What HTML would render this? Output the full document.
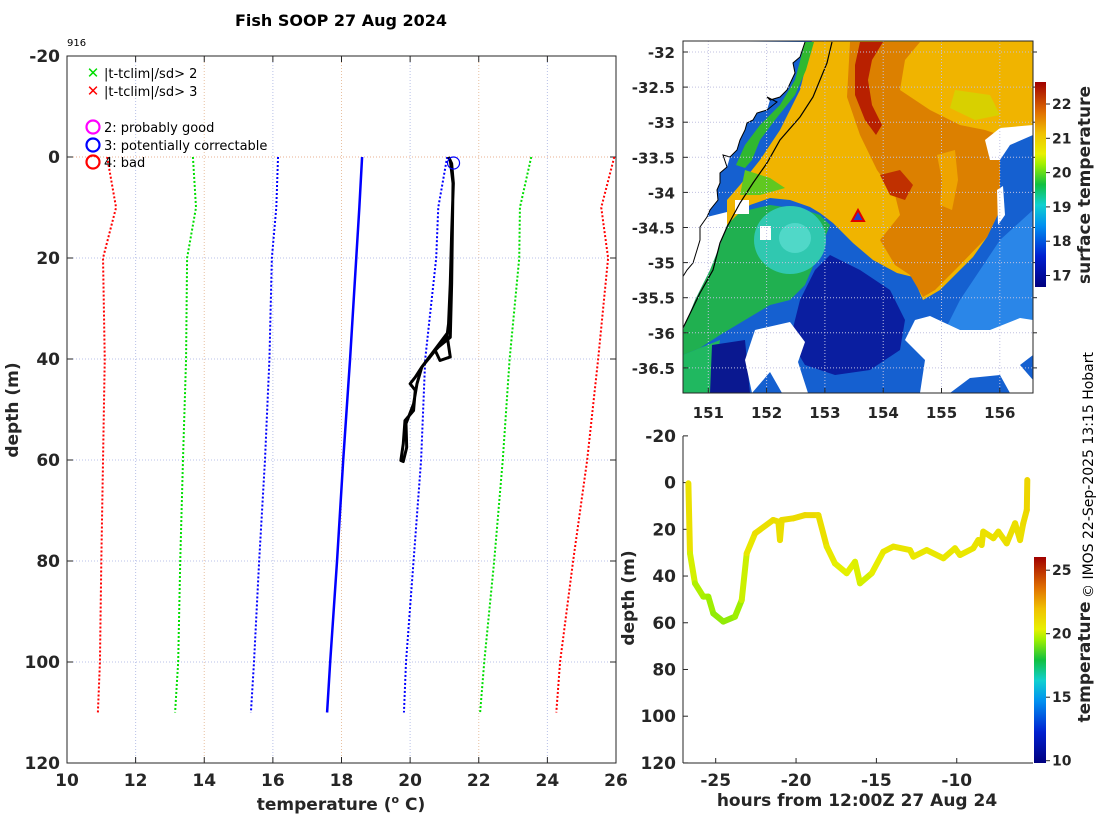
<!DOCTYPE html>
<html><head><meta charset="utf-8"><style>
html,body{margin:0;padding:0;background:#fff;}
svg{display:block;font-family:"DejaVu Sans","Liberation Sans",sans-serif;}
.tk{font-weight:bold;font-size:17px;fill:#262626;}
.tm{font-weight:bold;font-size:15px;fill:#262626;}
.tc{font-weight:bold;font-size:14px;fill:#262626;}
.lab{font-weight:bold;font-size:17px;fill:#262626;}
.leg{font-size:13px;fill:#000;}
</style></head><body>
<svg id="fig" width="1100" height="820" viewBox="0 0 1100 820" xmlns="http://www.w3.org/2000/svg">
<defs>
<linearGradient id="jet" x1="0" y1="1" x2="0" y2="0">
<stop offset="0" stop-color="#00007f"/><stop offset="0.15" stop-color="#0020d0"/><stop offset="0.3" stop-color="#0090f0"/><stop offset="0.4" stop-color="#10d0d0"/><stop offset="0.5" stop-color="#10c040"/><stop offset="0.6" stop-color="#a0f000"/><stop offset="0.65" stop-color="#e8f000"/><stop offset="0.75" stop-color="#f0c000"/><stop offset="0.85" stop-color="#e07000"/><stop offset="1" stop-color="#a00000"/>
</linearGradient>
<clipPath id="mapclip"><rect x="683" y="41" width="350" height="352"/></clipPath>
</defs>

<text x="341" y="26" text-anchor="middle" font-weight="bold" font-size="16">Fish SOOP 27 Aug 2024</text>
<text x="67" y="46" font-size="10">916</text>

<g id="main"></g>

<!-- MAP -->
<g id="map" clip-path="url(#mapclip)">
<rect x="683" y="41" width="350" height="352" fill="#1560d0"/>
<polygon fill="#2a86e8" points="960,300 1000,240 1033,210 1033,330 990,345 940,340"/>
<polygon fill="#f0b400" points="812,41 1033,41 1033,127 1000,132 1000,210 987,237 973,257 940,290 923,300 913,277 897,273 873,260 853,243 833,223 820,213 810,207 790,200 770,198 750,205 735,218 727,225 727,200 740,185 760,160 780,130 800,90"/>
<polygon fill="#dc8000" points="850,42 920,42 905,60 900,90 930,110 960,125 985,130 1000,135 1000,210 987,237 960,265 935,290 923,297 910,275 895,265 880,240 900,215 895,195 877,170 860,135 847,97"/>
<polygon fill="#eea400" points="937,155 955,150 958,180 952,210 940,205 942,180"/>
<polygon fill="#d8d000" points="955,90 990,95 1000,115 975,120 950,108"/>
<polygon fill="#b82000" points="860,42 883,42 872,60 868,80 872,105 882,125 876,135 865,120 855,95 855,65"/>
<polygon fill="#c03000" points="880,175 900,170 913,185 905,200 890,195"/>
<polygon fill="#30b830" points="805,42 814,42 806,70 795,95 775,120 760,140 752,160 745,168 736,165 745,145 760,125 780,105 795,80"/>
<polygon fill="#60c820" points="745,170 770,178 785,188 760,195 740,195"/>
<polygon fill="#20b050" points="727,225 740,212 770,205 805,210 820,215 830,225 820,250 805,285 790,300 770,305 745,320 720,335 700,348 683,355 683,330 695,300 710,270 720,245"/>
<ellipse cx="790" cy="240" rx="36" ry="34" fill="#30c8b0"/>
<ellipse cx="795" cy="238" rx="16" ry="15" fill="#50d8c8"/>
<polygon fill="#20b860" points="683,355 700,348 720,340 712,393 683,393"/>
<polygon fill="#0a1ea0" points="830,255 860,270 890,290 905,320 900,350 870,370 835,375 805,365 790,340 800,300 815,270"/>
<polygon fill="#0a1890" points="712,345 745,340 750,393 710,393"/>
<polygon fill="#fff" points="985,140 1000,128 1033,125 1033,135 1010,145 1000,160 990,160"/>
<polygon fill="#fff" points="997,190 1003,186 1005,215 998,225"/>
<polygon fill="#fff" points="915,320 930,316 960,330 990,330 1020,318 1033,320 1033,355 1020,365 1033,380 1033,393 1010,393 1000,375 970,378 950,393 920,393 925,360 905,340"/>
<polygon fill="#fff" points="755,330 790,322 805,342 798,362 808,393 782,393 770,372 752,393 745,360"/>
<rect x="735" y="200" width="14" height="14" fill="#fff"/>
<rect x="760" y="226" width="11" height="14" fill="#fff"/>
<polygon fill="#fff" points="683,41 805,42 800,57 793,63 795,73 787,90 780,97 770,100 767,110 757,113 753,120 747,123 745,130 740,140 737,150 730,157 727,167 720,173 720,183 717,190 718,200 710,210 707,217 727,212 727,225 720,245 710,270 695,300 683,330"/>
<polyline fill="none" stroke="#000" stroke-width="1" points="805,42 800,57 793,63 795,73 787,90 780,97 770,100 767,97 777,102 767,110 757,113 753,120 747,123 745,130 740,140 737,150 730,157 723,155 727,167 720,173 720,183 717,190 718,200 710,210 707,217 700,227 700,240 697,250 693,263 687,270 682,278"/>
<polyline fill="none" stroke="#000" stroke-width="1.2" points="832,42 827,63 813,97 800,117 780,140 767,163 753,183 740,203 727,227 720,243 713,270 700,293 682,330"/>
<g id="mapgrid"></g>
<polygon points="858,210 864,221 852,221" fill="#2040d0" stroke="#e00000" stroke-width="2"/>
</g>
<rect x="683" y="41" width="350" height="352" fill="none" stroke="#262626" stroke-width="1"/>
<g id="mapaxes"></g>
<rect x="1035" y="82" width="11" height="205" fill="url(#jet)"/>
<text transform="translate(1090,185) rotate(-90)" text-anchor="middle" class="lab" font-size="15">surface temperature</text>

<!-- bottom -->
<g id="ts"></g>
<rect x="1034" y="557" width="12" height="206" fill="url(#jet)"/>
<text transform="translate(1090,662) rotate(-90)" text-anchor="middle" class="lab" font-size="15">temperature</text>
<text transform="translate(1093,475) rotate(-90)" text-anchor="middle" font-size="14" fill="#000">© IMOS 22-Sep-2025 13:15 Hobart</text>
</svg>
<script>
// ---- profile chart data ----
const depthC = [0,10,20,40,60,80,100,110];
const redL = [11.17,11.43,11.05,11.1,11.05,11.0,10.96,10.9];
const greenL = [13.67,13.76,13.5,13.47,13.38,13.3,13.24,13.15];
const blueL = [16.15,16.1,15.97,15.9,15.77,15.6,15.45,15.36];
const climMean = [18.6,18.52,18.43,18.25,18.05,17.87,17.67,17.58];
const blueR = [21.08,20.82,20.76,20.44,20.32,20.1,19.88,19.82];
const greenR = [23.53,23.2,23.18,22.9,22.7,22.45,22.16,22.04];
const redR = [25.95,25.57,25.77,25.48,25.16,24.75,24.37,24.26];
const profT = [21.12,21.21,21.26,21.21,21.17,21.12,21.07,20.73,20.58,20.34,20.15,20.0,20.15,20.10,19.85,19.8,19.73,19.8,19.9,19.88,20.10,20.2,20.34,21.07,21.17,20.87,20.73,20.83,21.17,21.21,21.25,21.17];
const profD = [0,1.3,5.2,15.1,25.1,33.0,35.7,38.3,39.6,41.6,43.6,44.9,46.2,50.2,52.2,56.8,60.1,60.3,57.5,52.8,48.9,44.9,41.6,35.0,39.6,40.3,38.3,37.6,35.7,25.1,5.2,0.6];
const xTicks = [10,12,14,16,18,20,22,24,26];
const yTicks = [-20,0,20,40,60,80,100,120];
// ---- time series data ----
const hrs = [-26.70,-26.60,-26.29,-25.77,-25.46,-25.15,-24.53,-23.80,-23.38,-23.07,-22.55,-21.42,-21.10,-21.00,-20.89,-20.17,-19.44,-18.61,-18.09,-17.58,-16.85,-16.33,-16.02,-15.29,-14.57,-13.95,-12.91,-12.70,-11.87,-10.83,-10.11,-9.80,-8.97,-8.66,-8.45,-8.35,-7.72,-7.41,-6.89,-6.37,-6.06,-5.86,-5.64,-5.61];
const dep = [0.3,30.3,43.1,48.8,48.8,56.0,59.5,57.4,50.3,30.3,21.7,16.0,16.7,24.6,16.0,15.3,13.9,13.9,27.4,34.6,38.8,33.9,43.1,38.8,29.6,27.4,28.9,31.7,28.9,32.4,28.1,31.0,28.1,24.6,26.7,21.0,23.8,21.0,26.0,17.4,24.6,17.4,11.7,-1.1];
const tmp = [21.5,20.6,20.0,19.8,19.8,19.6,19.5,19.6,19.8,20.6,21.0,21.2,21.2,21.0,21.2,21.2,21.3,21.3,20.9,20.6,20.4,20.6,20.2,20.4,20.8,20.9,20.9,20.8,20.9,20.8,20.9,20.8,20.9,21.0,21.0,21.1,21.0,21.1,21.0,21.2,21.0,21.2,21.3,21.6];
const tsXTicks = [-25,-20,-15,-10];
const tsYTicks = [-20,0,20,40,60,80,100,120];
const lonTicks = [151,152,153,154,155,156];
const latTicks = [-32,-32.5,-33,-33.5,-34,-34.5,-35,-35.5,-36,-36.5];
const sstTicks = [22,21,20,19,18,17];
const tempTicks = [25,20,15,10];

const NS='http://www.w3.org/2000/svg';
function mk(tag, attrs, parent, txt){const e=document.createElementNS(NS,tag);for(const k in attrs)e.setAttribute(k,attrs[k]);if(txt!==undefined)e.textContent=txt;parent.appendChild(e);return e;}

// profile axes
const P={l:67,r:616,t:56,b:763,x0:10,x1:26,y0:-20,y1:120};
const px=v=>P.l+(v-P.x0)/(P.x1-P.x0)*(P.r-P.l);
const py=v=>P.t+(v-P.y0)/(P.y1-P.y0)*(P.b-P.t);
const main=document.getElementById('main');
xTicks.forEach(v=>{
  const g=mk('line',{x1:px(v),x2:px(v),y1:P.t,y2:P.b,stroke:(v%4===2)?'#e8c0a0':'#b8c0e8','stroke-width':1,'stroke-dasharray':'1,2'},main);
  
  
  const t=mk('text',{x:px(v),y:P.b+23,'text-anchor':'middle',class:'tk'},main,String(v));
  
  
  mk('line',{x1:px(v),x2:px(v),y1:P.b,y2:P.b-6,stroke:'#262626'},main);
  mk('line',{x1:px(v),x2:px(v),y1:P.t,y2:P.t+6,stroke:'#262626'},main);
});
yTicks.forEach(v=>{
  const g=mk('line',{x1:P.l,x2:P.r,y1:py(v),y2:py(v),stroke:v===0?'#e8b090':'#b8c0e8','stroke-width':1,'stroke-dasharray':'1,2'},main);
  
  
  const t=mk('text',{x:P.l-7,y:py(v)+6,'text-anchor':'end',class:'tk'},main,String(v));
  
  
  mk('line',{x1:P.l,x2:P.l+6,y1:py(v),y2:py(v),stroke:'#262626'},main);
  mk('line',{x1:P.r,x2:P.r-6,y1:py(v),y2:py(v),stroke:'#262626'},main);
});
function series(arr,col,dash,name,w){
  const pts=arr.map((v,i)=>px(v)+','+py(depthC[i])).join(' ');
  const e=mk('polyline',{points:pts,fill:'none',stroke:col,'stroke-width':w,'stroke-dasharray':dash},main);
  
  
}
series(redL,'#ff0000','2,2','clim-minus-3sd',2);
series(greenL,'#00dd00','2,2','clim-minus-2sd',2);
series(blueL,'#0000ff','2,2','clim-minus-1sd',2);
series(climMean,'#0000ff','none','clim-mean',2.5);
series(blueR,'#0000ff','2,2','clim-plus-1sd',2);
series(greenR,'#00dd00','2,2','clim-plus-2sd',2);
series(redR,'#ff0000','2,2','clim-plus-3sd',2);
const prof=mk('polyline',{points:profT.map((v,i)=>px(v)+','+py(profD[i])).join(' '),fill:'none',stroke:'#000','stroke-width':3,'stroke-linejoin':'round'},main);


const c0=mk('circle',{cx:px(profT[0])+5,cy:py(profD[0])+6,r:6,fill:'none',stroke:'#0000ff','stroke-width':1.2},main);


const fr=mk('rect',{x:P.l,y:P.t,width:P.r-P.l,height:P.b-P.t,fill:'none',stroke:'#262626'},main);


const yl=mk('text',{transform:'translate(18,410) rotate(-90)','text-anchor':'middle',class:'lab'},main,'depth (m)');


const xl=mk('text',{x:341,y:810,'text-anchor':'middle',class:'lab'},main);


xl.innerHTML='temperature (<tspan dy="-7" font-size="11">o</tspan><tspan dy="7"> C)</tspan>';
// legend
const legItems=[['x','#00dd00','|t-tclim|/sd> 2',73],['x','#ff0000','|t-tclim|/sd> 3',91],['o','#ff00ff','2: probably good',127],['o','#0000ff','3: potentially correctable',145],['o','#ff0000','4: bad',162]];
legItems.forEach(it=>{
  const g=mk('g',{},main);
  
  
  if(it[0]==='x'){mk('text',{x:93,y:it[3]+5,'text-anchor':'middle','font-size':15,'font-weight':'bold',fill:it[1]},g,'✕');}
  else{mk('circle',{cx:93,cy:it[3],r:6.5,fill:'none',stroke:it[1],'stroke-width':2.2},g);}
  mk('text',{x:104,y:it[3]+5,class:'leg'},g,it[2]);
});

// map axes
const M={l:683,r:1033,t:41,b:393};
const mx=lon=>708.3+(lon-151)*58.3;
const my=lat=>52+(-32-lat)*70.2;
const mg=document.getElementById('mapgrid'), ma=document.getElementById('mapaxes');
lonTicks.forEach(v=>{
  mk('line',{x1:mx(v),x2:mx(v),y1:M.t,y2:M.b,stroke:'#c0c0e0','stroke-dasharray':'1,2'},mg);
  mk('line',{x1:mx(v),x2:mx(v),y1:M.b,y2:M.b-5,stroke:'#262626'},ma);
  const t=mk('text',{x:mx(v),y:M.b+25,'text-anchor':'middle',class:'tm'},ma,String(v));
  
  
});
latTicks.forEach(v=>{
  mk('line',{x1:M.l,x2:M.r,y1:my(v),y2:my(v),stroke:'#c0c0e0','stroke-dasharray':'1,2'},mg);
  mk('line',{x1:M.l,x2:M.l+5,y1:my(v),y2:my(v),stroke:'#262626'},ma);
  mk('line',{x1:M.r,x2:M.r+4,y1:my(v),y2:my(v),stroke:'#262626'},ma);
  const t=mk('text',{x:M.l-8,y:my(v)+6,'text-anchor':'end',class:'tm'},ma,String(v));
  
  
});
const sy=v=>104+(22-v)*34.3;
sstTicks.forEach(v=>{
  mk('line',{x1:1046,x2:1050,y1:sy(v),y2:sy(v),stroke:'#262626'},ma);
  const t=mk('text',{x:1052,y:sy(v)+5,class:'tc'},ma,String(v));
  
  
});

// time series
const T={l:683,r:1033,t:436,b:763};
const tx=h=>715.7+(h+25)*16.07;
const ty=d=>482.6+d*2.336;
const ts=document.getElementById('ts');
tsXTicks.forEach(v=>{
  mk('line',{x1:tx(v),x2:tx(v),y1:T.b,y2:T.b-5,stroke:'#262626'},ts);
  const t=mk('text',{x:tx(v),y:T.b+23,'text-anchor':'middle',class:'tk'},ts,String(v));
  
  
});
tsYTicks.forEach(v=>{
  mk('line',{x1:T.l,x2:T.l+5,y1:ty(v),y2:ty(v),stroke:'#262626'},ts);
  const t=mk('text',{x:T.l-7,y:ty(v)+6,'text-anchor':'end',class:'tk'},ts,String(v));
  
  
});
mk('line',{x1:T.l,x2:T.l,y1:T.t,y2:T.b,stroke:'#262626'},ts);
mk('line',{x1:T.l,x2:T.r,y1:T.b,y2:T.b,stroke:'#262626'},ts);
const stops=[[0,[0,0,127]],[0.15,[0,32,208]],[0.3,[0,144,240]],[0.4,[16,208,208]],[0.5,[16,192,64]],[0.6,[160,240,0]],[0.65,[232,240,0]],[0.75,[240,192,0]],[0.85,[224,112,0]],[1,[160,0,0]]];
function jet(t){const f=Math.max(0,Math.min(1,(t-10)/16.2));for(let i=1;i<stops.length;i++){if(f<=stops[i][0]){const a=stops[i-1],b=stops[i],u=(f-a[0])/(b[0]-a[0]);return 'rgb('+a[1].map((c,k)=>Math.round(c+(b[1][k]-c)*u)).join(',')+')';}}return 'rgb(160,0,0)';}
for(let i=1;i<hrs.length;i++){
  const s=mk('line',{x1:tx(hrs[i-1]),y1:ty(dep[i-1]),x2:tx(hrs[i]),y2:ty(dep[i]),stroke:jet((tmp[i]+tmp[i-1])/2),'stroke-width':6,'stroke-linecap':'round'},ts);
  
  
}
const cy2=v=>760.7+(10-v)*12.7;
tempTicks.forEach(v=>{
  mk('line',{x1:1046,x2:1050,y1:cy2(v),y2:cy2(v),stroke:'#262626'},ts);
  const t=mk('text',{x:1052,y:cy2(v)+5,class:'tc'},ts,String(v));
  
  
});
const tyl=mk('text',{transform:'translate(634,598) rotate(-90)','text-anchor':'middle',class:'lab'},ts,'depth (m)');


const txl=mk('text',{x:857,y:806,'text-anchor':'middle',class:'lab'},ts,'hours from 12:00Z 27 Aug 24');


</script>
</body></html>
